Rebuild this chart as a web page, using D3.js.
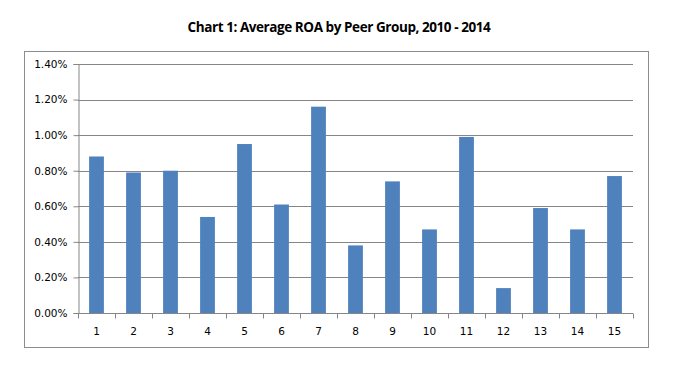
<!DOCTYPE html>
<html>
<head>
<meta charset="utf-8">
<script src="https://cdnjs.cloudflare.com/ajax/libs/d3/7.8.5/d3.min.js"></script>
<style>
  body { margin: 0; background: #fff; }
</style>
</head>
<body>
<div id="chart"></div>
<script>
// chart data
var groups = ["1", "2", "3", "4", "5", "6", "7", "8", "9", "10", "11", "12", "13", "14", "15"];
var roa = [0.0088, 0.0079, 0.0080, 0.0054, 0.0095, 0.0061, 0.0116, 0.0038, 0.0074, 0.0047, 0.0099, 0.0014, 0.0059, 0.0047, 0.0077];
var yTicks = [0, 0.002, 0.004, 0.006, 0.008, 0.010, 0.012, 0.014];
var title = "Chart 1: Average ROA by Peer Group, 2010 - 2014";

var W = 686, H = 388;
var margin = {left: 78, right: 53, top: 64, bottom: 75};
var width = W - margin.left - margin.right;
var height = H - margin.top - margin.bottom;

var svg = d3.select('#chart')
    .append('svg')
    .attr('width', W)
    .attr('height', H);

// outer frame
svg.append('rect')
    .attr('x', 24.5)
    .attr('y', 51.5)
    .attr('width', 624)
    .attr('height', 296)
    .attr('fill', 'none')
    .attr('stroke', '#8c8c8c');

svg.append('text')
    .attr('x', 339)
    .attr('y', 32)
    .attr('text-anchor', 'middle')
    .attr('font-family', 'Open Sans, sans-serif')
    .attr('font-weight', 'bold')
    .attr('font-size', 13.5)
    .attr('letter-spacing', -0.43)
    .attr('fill', '#000')
    .text(title);

var g = svg.append('g')
    .attr('transform', 'translate(' + margin.left + ',' + margin.top + ')');

var x = d3.scaleBand().domain(groups).range([0, width]).paddingInner(0.6).paddingOuter(0.3);
var y = d3.scaleLinear().domain([0, 0.014]).range([height, 0]);

// gridlines
g.append('g')
    .selectAll('line')
    .data(yTicks.slice(1))
    .enter()
    .append('line')
    .attr('x1', 0)
    .attr('x2', width)
    .attr('y1', function (d) { return Math.round(y(d)) + 0.5; })
    .attr('y2', function (d) { return Math.round(y(d)) + 0.5; })
    .attr('stroke', '#868686');

// bars
g.append('g')
    .selectAll('rect')
    .data(roa)
    .enter()
    .append('rect')
    .attr('x', function (d, i) { return x(groups[i]); })
    .attr('y', function (d) { return y(d); })
    .attr('width', x.bandwidth())
    .attr('height', function (d) { return height - y(d); })
    .attr('fill', '#4f81bd');

// y axis
var yAxis = g.append('g')
    .attr('transform', 'translate(0.5,0)')
    .call(d3.axisLeft(y).tickValues(yTicks).tickSize(5).tickPadding(6)
        .tickFormat(d3.format('.2%')));

// x axis with ticks at category boundaries
var step = width / groups.length;
var xAxis = g.append('g')
    .attr('transform', 'translate(0,' + (Math.round(height) + 0.5) + ')');
xAxis.append('line')
    .attr('x1', 0).attr('x2', width)
    .attr('stroke', '#868686');
xAxis.selectAll('.bound')
    .data(d3.range(groups.length + 1))
    .enter()
    .append('line')
    .attr('class', 'bound')
    .attr('x1', function (d) { return Math.round(d * step) + 0.5; })
    .attr('x2', function (d) { return Math.round(d * step) + 0.5; })
    .attr('y1', 0)
    .attr('y2', 5)
    .attr('stroke', '#868686');
xAxis.selectAll('text')
    .data(groups)
    .enter()
    .append('text')
    .attr('x', function (d) { return x(d) + x.bandwidth() / 2; })
    .attr('y', 21)
    .attr('text-anchor', 'middle')
    .text(function (d) { return d; });

yAxis.select('.domain').attr('stroke', '#868686');
yAxis.selectAll('.tick line').attr('stroke', '#868686');
svg.selectAll('g text')
    .attr('font-family', 'DejaVu Sans, sans-serif')
    .attr('font-size', 10.5)
    .attr('fill', '#000');
</script>
</body>
</html>
